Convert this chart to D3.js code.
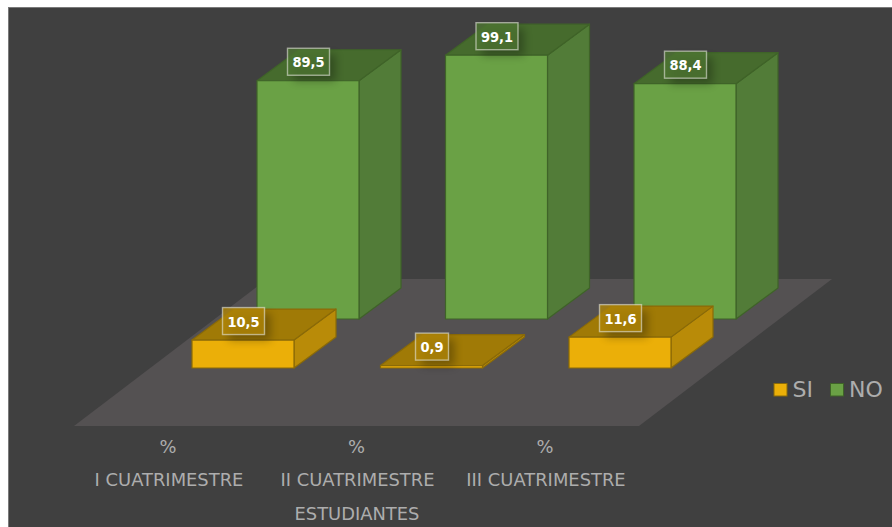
<!DOCTYPE html>
<html><head><meta charset="utf-8">
<script src="https://cdnjs.cloudflare.com/ajax/libs/d3/7.8.5/d3.min.js"></script>
<style>html,body{margin:0;padding:0;background:#fff;overflow:hidden}svg{display:block}
text{font-family:"DejaVu Sans",sans-serif}
text.lab{font-family:"DejaVu Sans Condensed","DejaVu Sans",sans-serif}</style></head><body>
<script>
const categories = ["I CUATRIMESTRE","II CUATRIMESTRE","III CUATRIMESTRE"];
const unitLabel = "%";
const axisTitle = "ESTUDIANTES";
const seriesNames = ["SI","NO"];
const siValues = [10.5,0.9,11.6];
const noValues = [89.5,99.1,88.4];
const palette = {
  SI:{front:"#ebaf08",side:"#b98b08",top:"#a07a06",stroke:"#8a6a08"},
  NO:{front:"#6aa145",side:"#527c38",top:"#466b2d",stroke:"#3f6328"}
};
const W=892,H=527;
const svg=d3.select("body").append("svg").attr("width",W).attr("height",H);
const defs=svg.append("defs");
defs.append("filter").attr("id","sh").attr("x","-50%").attr("y","-50%").attr("width","200%").attr("height","200%")
  .append("feGaussianBlur").attr("stdDeviation",4);

svg.append("rect").attr("x",8.5).attr("y",7.5).attr("width",W).attr("height",H)
  .attr("fill","#404040").attr("stroke","#7a7a7a");

const barW=102, depthX=42, depthY=31;
const x=d3.scalePoint().domain(categories).range([192,569]);
const y=d3.scaleLinear().domain([0,100]).range([0,266.2]);
const series=[
 {name:"NO",values:noValues,dx:65,base:319},
 {name:"SI",values:siValues,dx:0,base:368}
];
svg.append("polygon").attr("fill","#545152")
  .attr("points",[[74,426],[639,426],[832,279],[267,279]].join(" "));

const pts=a=>a.map(p=>p.join(",")).join(" ");
series.forEach(s=>{
  const c=palette[s.name];
  const g=svg.append("g");
  categories.forEach((cat,i)=>{
    const l=x(cat)+s.dx, r=l+barW, b=s.base, t=b-y(s.values[i]);
    const bar=g.append("g").attr("stroke",c.stroke).attr("stroke-width",1.2).attr("stroke-linejoin","round");
    bar.append("polygon").attr("fill",c.side).attr("points",pts([[r,t],[r+depthX,t-depthY],[r+depthX,b-depthY],[r,b]]));
    bar.append("polygon").attr("fill",c.top).attr("points",pts([[l,t],[r,t],[r+depthX,t-depthY],[l+depthX,t-depthY]]));
    bar.append("rect").attr("fill",c.front).attr("x",l).attr("y",t).attr("width",barW).attr("height",b-t);
  });
});
series.forEach(s=>{
  const c=palette[s.name];
  categories.forEach((cat,i)=>{
    const cx=x(cat)+s.dx+barW/2+0.5, cy=s.base-y(s.values[i])-19;
    const txt=String(s.values[i]).replace(".",",");
    const w=txt.length>3?42:33, h=27;
    svg.append("rect").attr("x",cx-w/2+6).attr("y",cy-h/2+6).attr("width",w).attr("height",h)
      .attr("fill","#000").attr("opacity",0.28).attr("filter","url(#sh)");
    svg.append("rect").attr("x",cx-w/2).attr("y",cy-h/2).attr("width",w).attr("height",h)
      .attr("fill",s.name==="SI"?"#b08608":"#4d7532").attr("fill-opacity",0.8).attr("stroke","#e4e6dc").attr("stroke-opacity",0.6).attr("stroke-width",1.4);
    svg.append("text").attr("class","lab").attr("x",cx).attr("y",cy+5.5).attr("text-anchor","middle")
      .attr("fill","#fff").attr("font-weight","bold").attr("font-size",14.5).text(txt);
  });
});
const tickFill="#adadad";
categories.forEach(cat=>{
  const cx=x(cat)+barW/2-74;
  svg.append("text").attr("x",cx-1).attr("y",453).attr("text-anchor","middle").attr("fill",tickFill).attr("font-size",17.9).text(unitLabel);
  svg.append("text").attr("x",cx).attr("y",486).attr("text-anchor","middle").attr("fill",tickFill).attr("font-size",17.9).text(cat);
});
svg.append("text").attr("x",357).attr("y",519.5).attr("text-anchor","middle").attr("fill",tickFill).attr("font-size",17.9).text(axisTitle);
const legendX=d3.scaleOrdinal().domain(seriesNames).range([774,830.5]);
seriesNames.forEach(n=>{
  const lx=legendX(n), c=palette[n];
  svg.append("rect").attr("x",lx).attr("y",383.5).attr("width",13).attr("height",12.5)
    .attr("fill",c.front).attr("stroke",c.stroke).attr("stroke-width",1);
  svg.append("text").attr("x",lx+18.5).attr("y",397).attr("fill",tickFill).attr("font-size",22).text(n);
});
</script></body></html>
